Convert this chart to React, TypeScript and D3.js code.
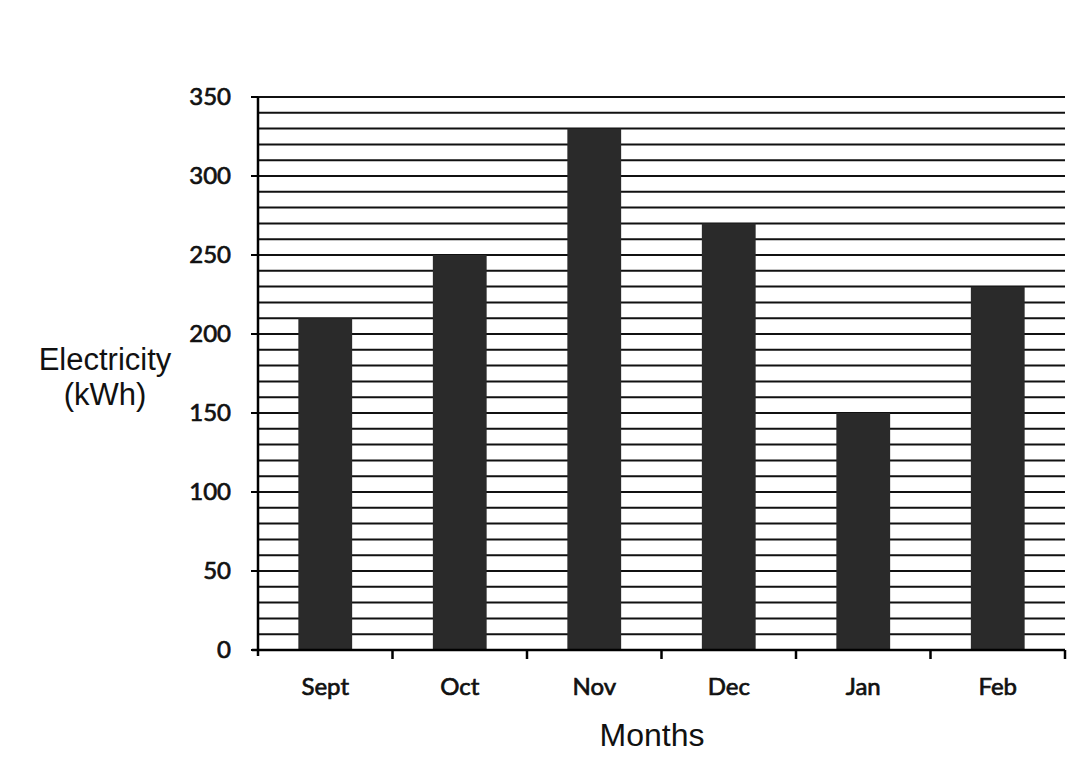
import { useEffect, useRef } from "react";
import * as d3 from "d3";

const months = ["Sept", "Oct", "Nov", "Dec", "Jan", "Feb"];
const electricity = [210, 250, 330, 270, 150, 230];
const yTicks = [0, 50, 100, 150, 200, 250, 300, 350];
const gridValues = d3.range(10, 351, 10);

const width = 1081;
const height = 759;

export default function App() {
  const svgRef = useRef<SVGSVGElement>(null);

  useEffect(() => {
    if (!svgRef.current) return;
    const svg = d3.select(svgRef.current);
    svg.selectAll("*").remove();

    const left = 258;
    const right = 1065;
    const top = 97;
    const bottom = 650;

    const x = d3
      .scaleBand<string>()
      .domain(months)
      .range([left, right])
      .paddingInner(0.6)
      .paddingOuter(0.3);
    const y = d3.scaleLinear().domain([0, 350]).range([bottom, top]);
    const step = x.step();

    svg
      .append("rect")
      .attr("width", width)
      .attr("height", height)
      .attr("fill", "#ffffff");

    // horizontal grid every 10 kWh
    svg
      .append("g")
      .selectAll("line")
      .data(gridValues)
      .join("line")
      .attr("x1", left)
      .attr("x2", right)
      .attr("y1", (d) => y(d))
      .attr("y2", (d) => y(d))
      .attr("stroke", "#111")
      .attr("stroke-width", 2);

    // bars
    svg
      .append("g")
      .selectAll("rect")
      .data(electricity)
      .join("rect")
      .attr("x", (_, i) => x(months[i])!)
      .attr("y", (d) => y(d))
      .attr("width", x.bandwidth())
      .attr("height", (d) => bottom - y(d))
      .attr("fill", "#2a2a2a");

    // axes
    svg
      .append("line")
      .attr("x1", left)
      .attr("x2", left)
      .attr("y1", y(350))
      .attr("y2", bottom + 6)
      .attr("stroke", "#000")
      .attr("stroke-width", 2.5);
    svg
      .append("line")
      .attr("x1", left - 6)
      .attr("x2", right)
      .attr("y1", bottom)
      .attr("y2", bottom)
      .attr("stroke", "#000")
      .attr("stroke-width", 2.5);

    const tickFont = "Lato, 'Open Sans', sans-serif";

    // y ticks + labels
    const yg = svg.append("g");
    yg.selectAll("line")
      .data(yTicks)
      .join("line")
      .attr("x1", left - 7)
      .attr("x2", left)
      .attr("y1", (d) => y(d))
      .attr("y2", (d) => y(d))
      .attr("stroke", "#000")
      .attr("stroke-width", 2);
    yg.selectAll("text")
      .data(yTicks)
      .join("text")
      .attr("x", 231)
      .attr("y", (d) => y(d))
      .attr("dy", "0.35em")
      .attr("text-anchor", "end")
      .style("font-family", tickFont)
      .style("font-size", "24px")
      .attr("fill", "#111")
      .attr("stroke", "#111")
      .attr("stroke-width", 0.7)
      .text((d) => d);

    // x ticks at category boundaries
    const boundaries = months.map((_, i) => left + step * (i + 1));
    svg
      .append("g")
      .selectAll("line")
      .data(boundaries)
      .join("line")
      .attr("x1", (d) => d)
      .attr("x2", (d) => d)
      .attr("y1", bottom)
      .attr("y2", bottom + 9)
      .attr("stroke", "#000")
      .attr("stroke-width", 2.5);

    svg
      .append("g")
      .selectAll("text")
      .data(months)
      .join("text")
      .attr("x", (d) => x(d)! + x.bandwidth() / 2)
      .attr("y", 695)
      .attr("text-anchor", "middle")
      .style("font-family", tickFont)
      .style("font-size", "24px")
      .attr("fill", "#111")
      .attr("stroke", "#111")
      .attr("stroke-width", 0.7)
      .text((d) => d);

    // axis titles
    const titleFont = "'Liberation Sans', Arial, sans-serif";
    const yTitle = svg
      .append("text")
      .attr("text-anchor", "middle")
      .style("font-family", titleFont)
      .style("font-size", "31px")
      .attr("fill", "#111");
    yTitle.append("tspan").attr("x", 105).attr("y", 370).text("Electricity");
    yTitle.append("tspan").attr("x", 105).attr("y", 405).text("(kWh)");

    svg
      .append("text")
      .attr("x", 652)
      .attr("y", 746)
      .attr("text-anchor", "middle")
      .style("font-family", titleFont)
      .style("font-size", "32px")
      .attr("fill", "#111")
      .text("Months");
  }, []);

  return (
    <svg
      ref={svgRef}
      width={width}
      height={height}
      style={{ position: "absolute", left: 0, top: 0 }}
    />
  );
}
